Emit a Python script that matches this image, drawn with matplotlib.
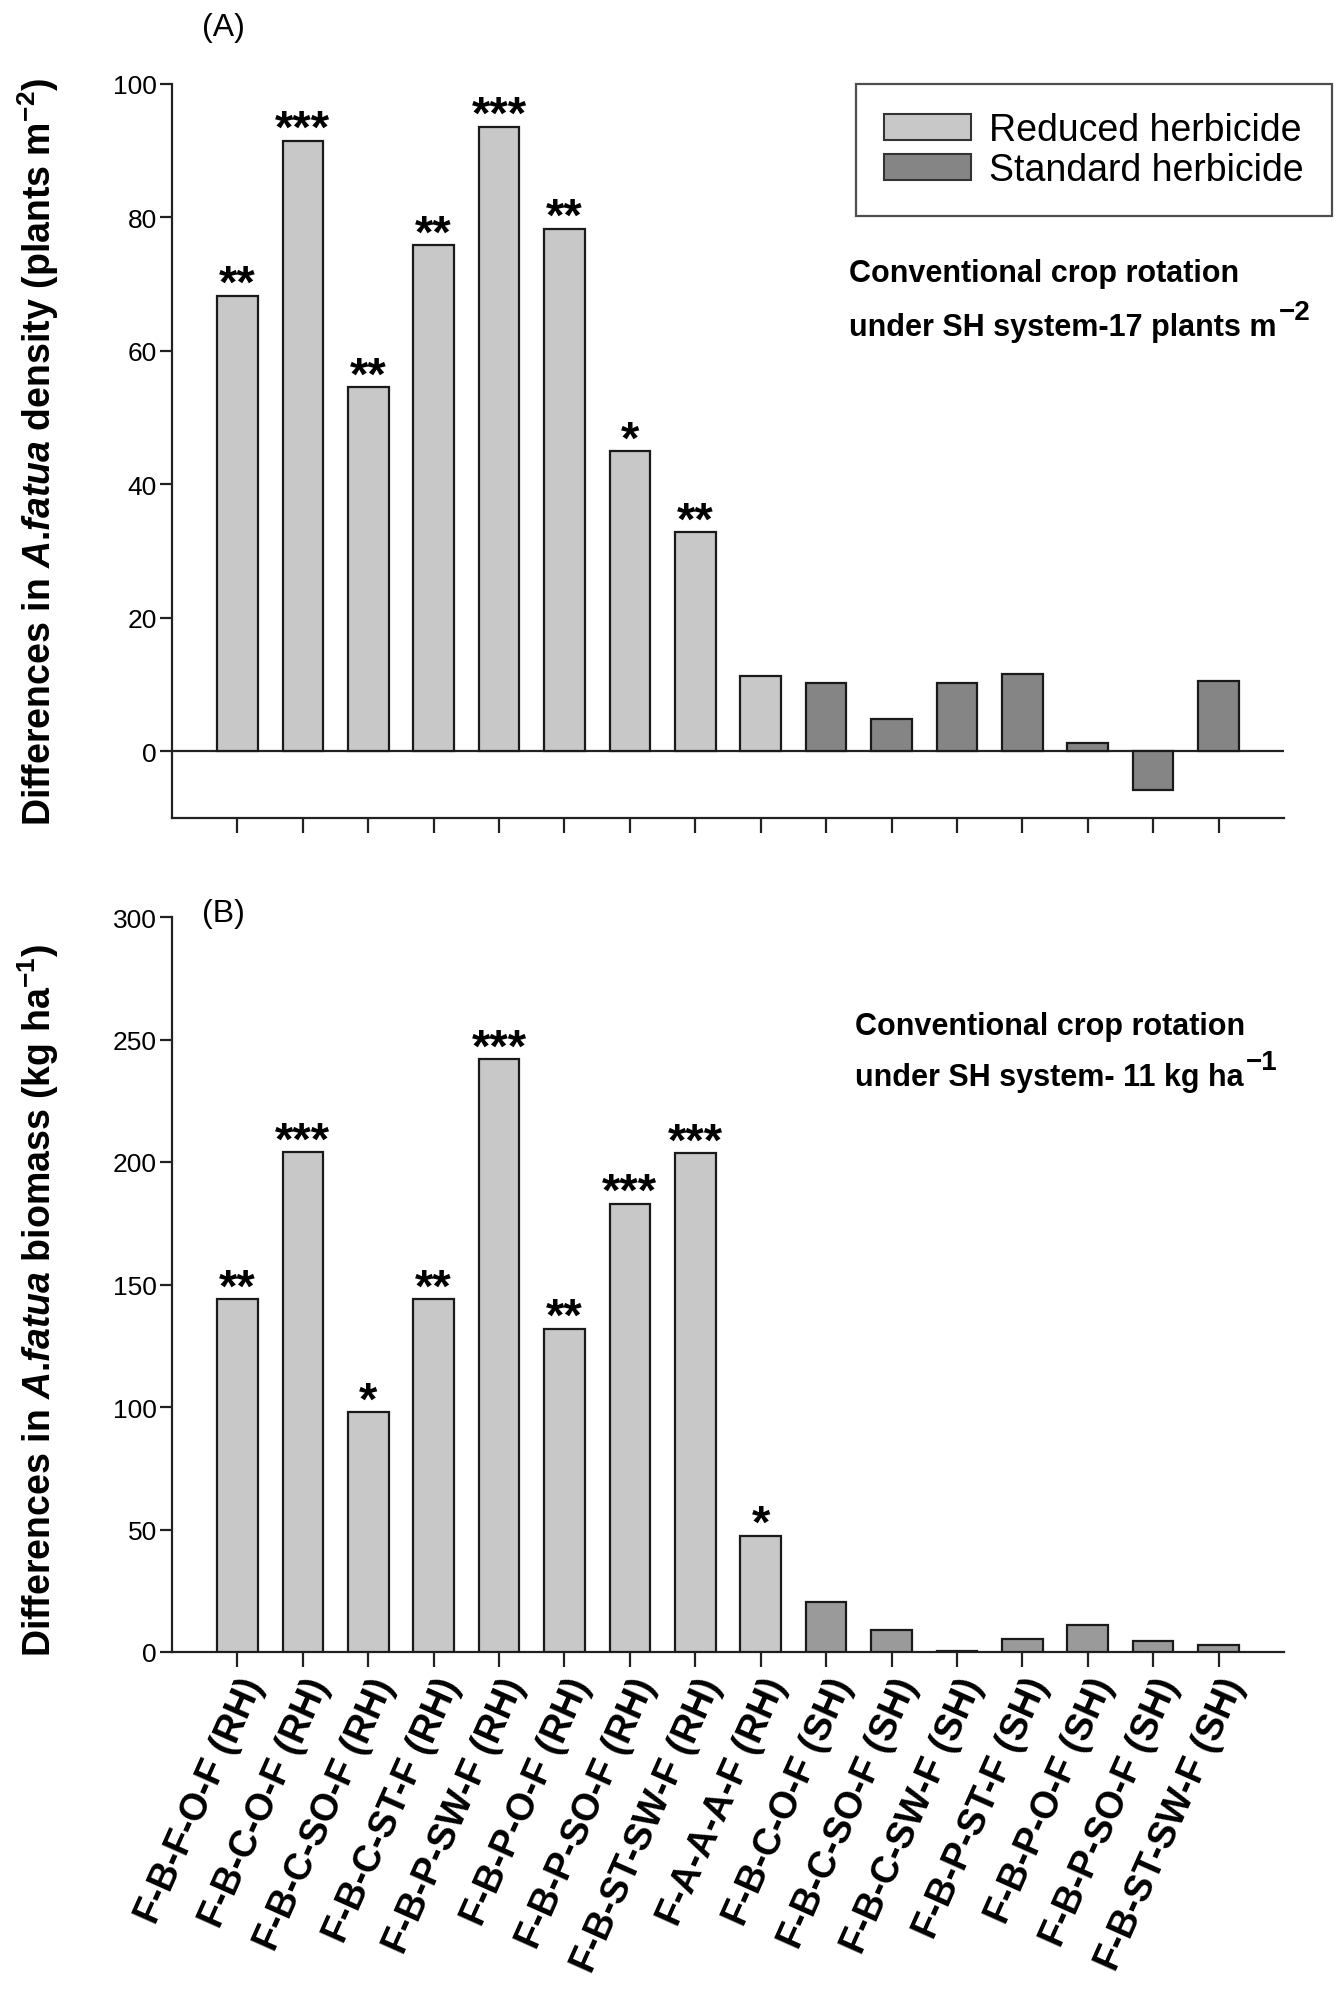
import matplotlib
matplotlib.use("Agg")
import matplotlib.pyplot as plt
from matplotlib.patches import Patch

plt.rcParams['font.family'] = ['Liberation Sans', 'DejaVu Sans']
plt.rcParams['mathtext.fontset'] = 'custom'
plt.rcParams['mathtext.rm'] = 'Liberation Sans'
plt.rcParams['mathtext.bf'] = 'Liberation Sans:bold'
plt.rcParams['mathtext.it'] = 'Liberation Sans:italic'
plt.rcParams['mathtext.bfit'] = 'Liberation Sans:bold:italic'

rotations = ['F-B-F-O-F (RH)', 'F-B-C-O-F (RH)', 'F-B-C-SO-F (RH)', 'F-B-C-ST-F (RH)',
             'F-B-P-SW-F (RH)', 'F-B-P-O-F (RH)', 'F-B-P-SO-F (RH)', 'F-B-ST-SW-F (RH)',
             'F-A-A-A-F (RH)', 'F-B-C-O-F (SH)', 'F-B-C-SO-F (SH)', 'F-B-C-SW-F (SH)',
             'F-B-P-ST-F (SH)', 'F-B-P-O-F (SH)', 'F-B-P-SO-F (SH)', 'F-B-ST-SW-F (SH)']
is_reduced = [True] * 9 + [False] * 7

density = [68.3, 91.5, 54.6, 75.8, 93.6, 78.3, 45.0, 32.8, 11.3,
           10.2, 4.8, 10.2, 11.6, 1.3, -5.8, 10.6]
density_sig = ['**', '***', '**', '**', '***', '**', '*', '**', '',
               '', '', '', '', '', '', '']

biomass = [144, 204, 98, 144, 242, 132, 183, 203.5, 47.5,
           20.5, 9, 0.5, 5.5, 11, 4.5, 3]
biomass_sig = ['**', '***', '*', '**', '***', '**', '***', '***', '*',
               '', '', '', '', '', '', '']

light = '#c8c8c8'
dark_a = '#858585'
dark_b = '#9a9a9a'
edge = '#1a1a1a'

W, H = 1342, 2006
fig = plt.figure(figsize=(W / 100, H / 100), dpi=100)
fig.patch.set_facecolor('white')

left = 172 / W
width = (1284 - 172) / W
axA = fig.add_axes([left, 1 - 819 / H, width, (819 - 85) / H])
axB = fig.add_axes([left, 1 - 1653 / H, width, (1653 - 918) / H])

x = list(range(len(rotations)))


def draw(ax, vals, sig, dark):
    cols = [light if r else dark for r in is_reduced]
    ax.bar(x, vals, width=0.62, color=cols, edgecolor=edge, linewidth=1.6, zorder=3)
    for i, (v, s) in enumerate(zip(vals, sig)):
        if s:
            ax.annotate(s, (i, v), xytext=(0, -1), textcoords='offset points',
                        ha='center', va='baseline', fontsize=34, fontweight='bold')
    ax.set_xlim(-1, 16)
    ax.set_xticks(x)
    for side in ['top', 'right']:
        ax.spines[side].set_visible(False)
    for side in ['left', 'bottom']:
        ax.spines[side].set_linewidth(1.6)
        ax.spines[side].set_color('#222222')
    ax.tick_params(axis='x', direction='out', length=11, width=1.6, color='#222222')
    ax.tick_params(axis='y', direction='out', length=9, width=1.6, color='#222222',
                   pad=2, labelsize=19)


# panel A
draw(axA, density, density_sig, dark_a)
axA.set_ylim(-10, 100)
axA.set_yticks([0, 20, 40, 60, 80, 100])
axA.spines['left'].set_bounds(-10, 100)
axA.axhline(0, color='#222222', lw=1.6, zorder=2)
axA.set_xticklabels([])
axA.set_ylabel(r'Differences in $\mathbfit{A}$.$\mathbfit{fatua}$ density (plants m$^{\mathbf{-2}}$)',
               fontsize=27, fontweight='bold')
axA.yaxis.set_label_coords(-0.1, 0.5)

# panel B
draw(axB, biomass, biomass_sig, dark_b)
axB.set_ylim(0, 300)
axB.set_yticks([0, 50, 100, 150, 200, 250, 300])
axB.set_xticklabels(rotations, rotation=66, ha='right', rotation_mode='anchor',
                    fontsize=27, fontweight='bold')
axB.set_ylabel(r'Differences in $\mathbfit{A}$.$\mathbfit{fatua}$ biomass (kg ha$^{\mathbf{-1}}$)',
               fontsize=27, fontweight='bold')
axB.yaxis.set_label_coords(-0.1, 0.48)

# panel tags
fig.text(202 / W, 1 - 36 / H, '(A)', fontsize=23, va='baseline')
fig.text(202 / W, 1 - 922 / H, '(B)', fontsize=23, va='baseline')

# legend
handles = [Patch(facecolor=light, edgecolor='#333333', linewidth=1.5, label='Reduced herbicide'),
           Patch(facecolor=dark_a, edgecolor='#333333', linewidth=1.5, label='Standard herbicide')]
leg = fig.legend(handles=handles, loc='upper right', bbox_to_anchor=(1332 / W, 1 - 85 / H),
                 bbox_transform=fig.transFigure, fontsize=27, frameon=True, fancybox=False,
                 handlelength=2.3, handleheight=0.7, handletextpad=0.5, labelspacing=0.1,
                 borderpad=0.75, borderaxespad=0)
leg.get_frame().set_edgecolor('#222222')
leg.get_frame().set_linewidth(1.6)

# notes, superscripts drawn as separate bigger text
notes = [(849, 282, 336, 'Conventional crop rotation', 'under SH system-17 plants m', '\u22122'),
         (855, 1035, 1086, 'Conventional crop rotation', 'under SH system- 11 kg ha', '\u22121')]
fig.canvas.draw()
rend = fig.canvas.get_renderer()
for nx, y1, y2, line1, line2, sup in notes:
    fig.text(nx / W, 1 - y1 / H, line1, fontsize=22, fontweight='bold', va='baseline')
    t = fig.text(nx / W, 1 - y2 / H, line2, fontsize=22, fontweight='bold', va='baseline')
    bb = t.get_window_extent(renderer=rend)
    fig.text((bb.x1 + 2) / W, 1 - (y2 - 16) / H, sup, fontsize=20, fontweight='bold',
             va='baseline')

fig.savefig('out.png', dpi=100, facecolor='white')
